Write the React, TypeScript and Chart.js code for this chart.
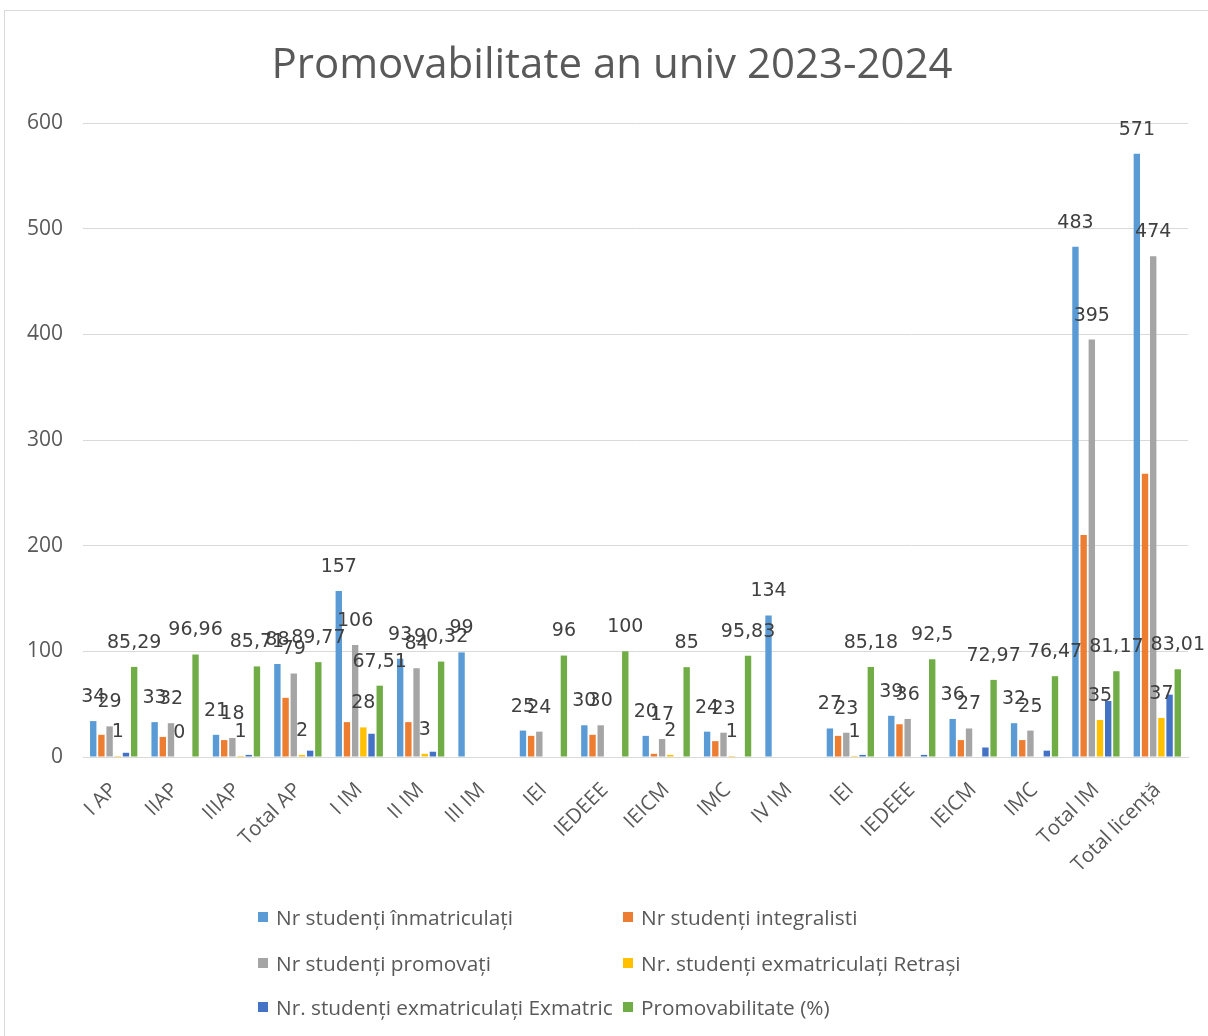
import React, { useEffect, useRef } from 'react';
import { Chart, registerables } from 'chart.js';

Chart.register(...registerables);

const categories = ['I AP', 'IIAP', 'IIIAP', 'Total AP', 'I IM', 'II IM', 'III IM', 'IEI', 'IEDEEE', 'IEICM', 'IMC', 'IV IM', 'IEI', 'IEDEEE', 'IEICM', 'IMC', 'Total IM', 'Total licență'];
const inmatriculati = [34, 33, 21, 88, 157, 93, 99, 25, 30, 20, 24, 134, 27, 39, 36, 32, 483, 571];
const integralisti = [21, 19, 16, 56, 33, 33, null, 20, 21, 3, 15, null, 20, 31, 16, 16, 210, 268];
const promovati = [29, 32, 18, 79, 106, 84, null, 24, 30, 17, 23, null, 23, 36, 27, 25, 395, 474];
const retrasi = [1, 0, 1, 2, 28, 3, null, null, null, 2, 1, null, 1, null, null, null, 35, 37];
const exmatriculati = [4, null, 2, 6, 22, 5, null, null, null, null, null, null, 2, 2, 9, 6, 53, 59];
const promovabilitate = [85.29, 96.96, 85.71, 89.77, 67.51, 90.32, null, 96, 100, 85, 95.83, null, 85.18, 92.5, 72.97, 76.47, 81.17, 83.01];

const seriesNames = [
  'Nr studenți înmatriculați',
  'Nr studenți integralisti',
  'Nr studenți promovați',
  'Nr. studenți exmatriculați Retrași',
  'Nr. studenți exmatriculați Exmatric',
  'Promovabilitate (%)',
];
const seriesColors = ['#5b9bd5', '#ed7d31', '#a5a5a5', '#ffc000', '#4472c4', '#70ad47'];
const labeledSeries = [0, 2, 3, 5];
const title = 'Promovabilitate an univ 2023-2024';
const yMax = 600;
const yStep = 100;

const valueLabels = {
  id: 'valueLabels',
  afterDatasetsDraw(chart: any) {
    const ctx = chart.ctx;
    ctx.save();
    ctx.font = '19px "DejaVu Sans"';
    ctx.fillStyle = '#404040';
    ctx.textAlign = 'center';
    ctx.textBaseline = 'middle';
    labeledSeries.forEach((di) => {
      const meta = chart.getDatasetMeta(di);
      meta.data.forEach((bar: any, i: number) => {
        const v = chart.data.datasets[di].data[i];
        if (v == null) return;
        ctx.fillText(String(v).replace('.', ','), bar.x, bar.y - 24);
      });
    });
    ctx.restore();
  },
};

export default function App() {
  const canvasRef = useRef<HTMLCanvasElement | null>(null);

  useEffect(() => {
    document.body.style.overflow = 'hidden';
    const allData = [inmatriculati, integralisti, promovati, retrasi, exmatriculati, promovabilitate];
    const chart = new Chart(canvasRef.current as HTMLCanvasElement, {
      type: 'bar',
      data: {
        labels: categories,
        datasets: allData.map((d, i) => ({
          label: seriesNames[i],
          data: d,
          backgroundColor: seriesColors[i],
          borderWidth: 0,
          categoryPercentage: 0.8,
          barPercentage: 0.78,
        })),
      },
      options: {
        animation: false,
        responsive: false,
        maintainAspectRatio: false,
        layout: { padding: { top: 123, right: 20, left: 0, bottom: 0 } },
        plugins: {
          legend: { display: false },
          title: { display: false },
          tooltip: { enabled: false },
        },
        scales: {
          x: {
            grid: { display: false },
            border: { display: true, color: '#d9d9d9', width: 1 },
            ticks: {
              autoSkip: false,
              minRotation: 45,
              maxRotation: 45,
              padding: 13,
              color: '#595959',
              font: { family: '"Open Sans"', size: 20.5 },
            },
            afterFit: (scale: any) => {
              scale.height = 279;
            },
          },
          y: {
            min: 0,
            max: yMax,
            ticks: {
              stepSize: yStep,
              padding: 20,
              color: '#595959',
              font: { family: '"Open Sans"', size: 21 },
            },
            grid: { color: '#d9d9d9', drawTicks: false },
            border: { display: false },
            afterFit: (scale: any) => {
              scale.width = 83;
            },
          },
        },
      },
      plugins: [valueLabels],
    });
    return () => chart.destroy();
  }, []);

  const legendPos = [
    [258, 917], [623, 917],
    [258, 963], [623, 963],
    [258, 1007], [623, 1007],
  ];

  return (
    <div style={{ position: 'absolute', left: 0, top: 0, width: 1208, height: 1036, overflow: 'hidden', background: '#fff' }}>
      <div style={{ position: 'absolute', left: 4, top: 10, width: 1210, height: 1040, borderLeft: '1px solid #d9d9d9', borderTop: '1px solid #d9d9d9' }} />
      <canvas ref={canvasRef} width={1208} height={1036} style={{ position: 'absolute', left: 0, top: 0, width: 1208, height: 1036 }} />
      <div style={{ position: 'absolute', left: 612, top: 38, transform: 'translateX(-50%)', whiteSpace: 'nowrap', fontFamily: '"Open Sans"', fontSize: 42, lineHeight: '48px', color: '#595959' }}>
        {title}
      </div>
      {seriesNames.map((name, i) => (
        <div key={i} style={{ position: 'absolute', left: legendPos[i][0], top: legendPos[i][1] - 15, height: 30, display: 'flex', alignItems: 'center', whiteSpace: 'nowrap', fontFamily: '"Open Sans"', fontSize: 20.8, color: '#595959' }}>
          <span style={{ display: 'inline-block', width: 10, height: 10, background: seriesColors[i], marginRight: 8 }} />
          {name}
        </div>
      ))}
    </div>
  );
}
